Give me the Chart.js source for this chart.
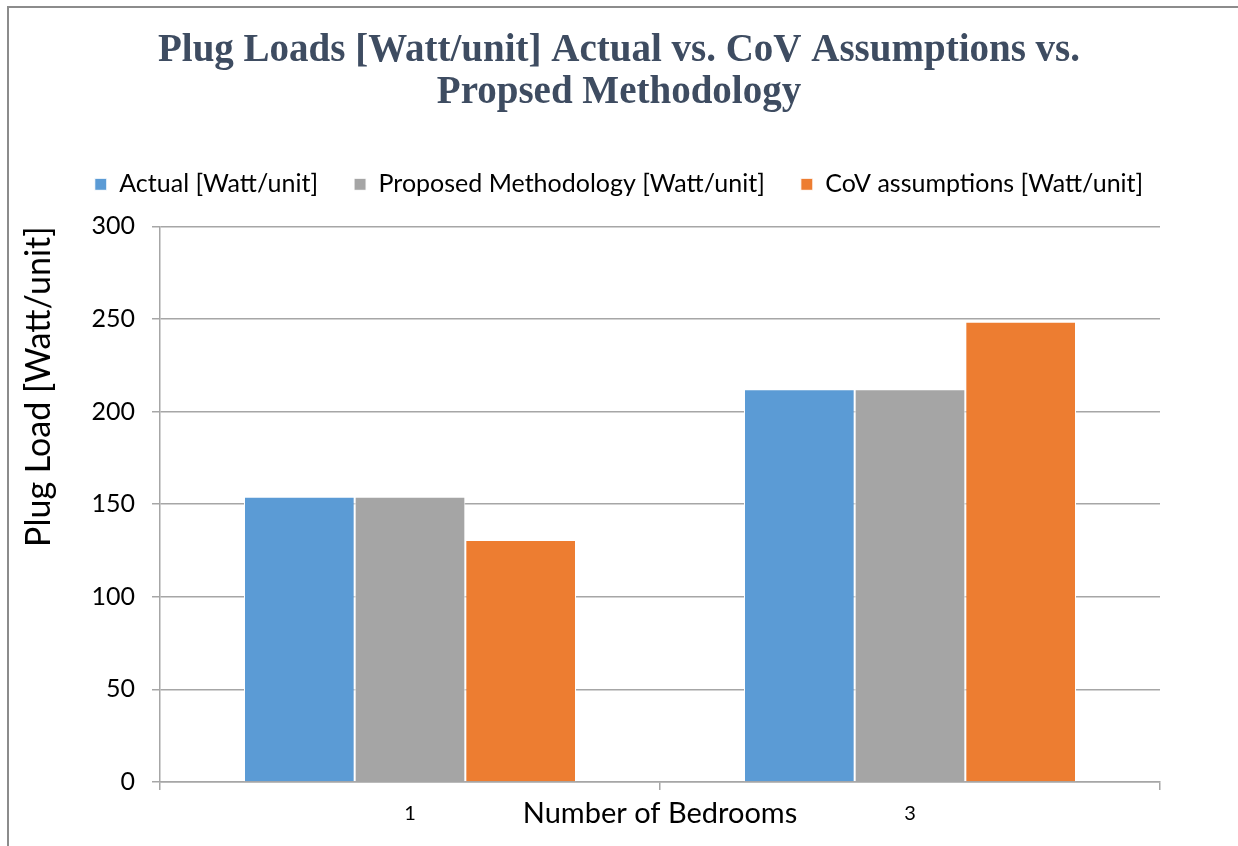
<!DOCTYPE html>
<html>
<head>
<meta charset="utf-8">
<script src="https://cdn.jsdelivr.net/npm/chart.js@4/dist/chart.umd.min.js"></script>
<style>
  html, body { margin: 0; padding: 0; background: #fff; }
  #wrap { position: relative; width: 1238px; height: 846px; overflow: hidden; }
  #frame { position: absolute; left: 7px; top: 6px; width: 1300px; height: 900px;
           border-left: 2px solid #8c8c8c; border-top: 2px solid #8c8c8c; }
  canvas { position: absolute; left: 0; top: 0; }
</style>
</head>
<body>
<div id="wrap">
  <div id="frame"></div>
  <canvas id="myChart" width="1238" height="846"></canvas>
</div>
<script>
// values
const categories = ['1', '3'];
const actual = [154, 212];
const proposed = [154, 212];
const cov = [130.7, 248.5];
const seriesLabels = ['Actual [Watt/unit]', 'Proposed Methodology [Watt/unit]', 'CoV assumptions [Watt/unit]'];
const yTicks = [0, 50, 100, 150, 200, 250, 300];

const blue = '#5B9BD5';
const grey = '#A5A5A5';
const orange = '#ED7D31';
const axisGrey = '#A6A6A6';
const bodyFont = 'Lato, "Open Sans", sans-serif';

var ctx = document.getElementById('myChart');

function makeSet(label, data, color) {
  return {
    label: label,
    data: data,
    backgroundColor: color,
    borderColor: '#ffffff',
    borderWidth: 1,
    categoryPercentage: 0.664,
    barPercentage: 1.0
  };
}

// empty axes, only used to reserve room (space under legend, right margin)
function spacer(pos, type, size) {
  return {
    type: type,
    position: pos,
    display: true,
    grid: { display: false },
    border: { display: false },
    ticks: { display: false },
    afterFit: function(scale) {
      if (pos === 'top') scale.height = size; else scale.width = size;
    }
  };
}

var myChart = new Chart(ctx, {
  type: 'bar',
  data: {
    labels: categories,
    datasets: [
      makeSet(seriesLabels[0], actual, blue),
      makeSet(seriesLabels[1], proposed, grey),
      makeSet(seriesLabels[2], cov, orange)
    ]
  },
  options: {
    responsive: false,
    animation: false,
    layout: { padding: { left: 20, right: 20, top: 0, bottom: 10 } },
    plugins: {
      tooltip: { enabled: false },
      title: {
        display: true,
        text: ['Plug Loads [Watt/unit] Actual vs. CoV Assumptions vs.', 'Propsed Methodology'],
        color: '#3E4C61',
        font: { family: '"Liberation Serif", serif', size: 39, weight: 'bold', lineHeight: 1.1 },
        padding: { top: 29, bottom: 21 }
      },
      legend: {
        display: true,
        labels: {
          color: '#000',
          font: { family: bodyFont, size: 25 },
          boxWidth: 12,
          boxHeight: 12,
          padding: 36
        }
      }
    },
    scales: {
      x: {
        grid: { drawOnChartArea: false, drawTicks: true, tickLength: 8, color: axisGrey, lineWidth: 1.5 },
        border: { color: axisGrey, width: 1.5 },
        ticks: { color: '#000', font: { family: bodyFont, size: 20 }, padding: 12 },
        title: {
          display: true,
          text: 'Number of Bedrooms',
          color: '#000',
          font: { family: bodyFont, size: 29 },
          padding: { top: 0, bottom: 5 }
        },
        afterFit: function(scale) { scale.height = 54; }
      },
      xTop: spacer('top', 'category', 19.5),
      y: {
        min: 0,
        max: 300,
        afterBuildTicks: function(scale) {
          scale.ticks = yTicks.map(function(v) { return { value: v }; });
        },
        grid: { color: axisGrey, lineWidth: 1.5, tickLength: 8 },
        border: { color: axisGrey, width: 1.5 },
        ticks: { color: '#000', font: { family: bodyFont, size: 25 }, padding: 17 },
        title: {
          display: true,
          text: 'Plug Load [Watt/unit]',
          align: 'end',
          color: '#000',
          font: { family: bodyFont, size: 34, lineHeight: 1.1 },
          padding: { top: 0, bottom: 0 }
        },
        afterFit: function(scale) { scale.width = 140; }
      },
      yRight: spacer('right', 'linear', 58)
    }
  }
});
</script>
</body>
</html>
